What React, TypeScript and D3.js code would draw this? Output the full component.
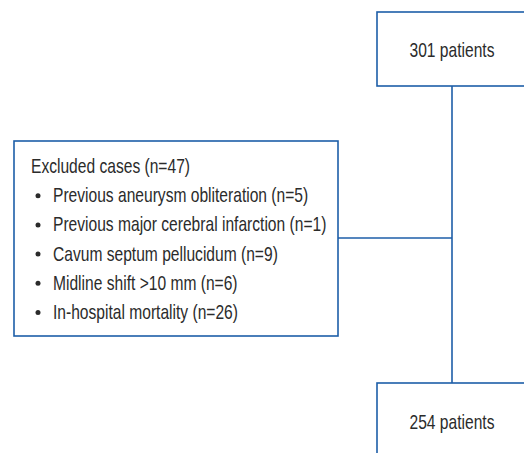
import React from 'react';
import * as d3 from 'd3';

// flow counts
const totalPatients = 301;
const finalPatients = 254;
const excludedTotal = 47;

// exclusion reasons and counts
const reasons = [
  'Previous aneurysm obliteration',
  'Previous major cerebral infarction',
  'Cavum septum pellucidum',
  'Midline shift >10 mm',
  'In-hospital mortality',
];
const reasonCounts = [5, 1, 9, 6, 26];

const BLUE = '#1d5ea8';
const TEXT = '#2b2b2b';
const FONT = '"Liberation Sans", Arial, sans-serif';
const SQUEEZE = 0.78; // narrow the glyphs, the source uses a condensed face

const Label = ({ x, y, anchor = 'start', children }: any) => (
  <text transform={`translate(${x},${y}) scale(${SQUEEZE},1)`} textAnchor={anchor}>
    {children}
  </text>
);

const App = () => {
  const width = 524;
  const height = 453;

  // line positions of the list, header row + one row per reason
  const rows = ['header', ...reasons];
  const y = d3.scalePoint<string>().domain(rows).range([173, 319]);

  const mainX = 452;
  const topBox = { x: 377, y: 12, w: 150, h: 74 };
  const botBox = { x: 377, y: 383, w: 150, h: 80 };
  const leftBox = { x: 14, y: 141, w: 324, h: 195 };
  const branchY = 238;

  return (
    <svg
      width={width}
      height={height}
      style={{ position: 'absolute', left: 0, top: 0, background: '#fff' }}
      fontFamily={FONT}
    >
      <g fill="none" stroke={BLUE} strokeWidth={1.6}>
        <rect x={topBox.x} y={topBox.y} width={topBox.w} height={topBox.h} />
        <rect x={botBox.x} y={botBox.y} width={botBox.w} height={botBox.h} />
        <rect x={leftBox.x} y={leftBox.y} width={leftBox.w} height={leftBox.h} />
        <line x1={mainX} x2={mainX} y1={topBox.y + topBox.h} y2={botBox.y} />
        <line x1={leftBox.x + leftBox.w} x2={mainX} y1={branchY} y2={branchY} />
      </g>
      <g fill={TEXT} fontSize={20}>
        <Label x={mainX} y={57} anchor="middle">{`${totalPatients} patients`}</Label>
        <Label x={mainX} y={429} anchor="middle">{`${finalPatients} patients`}</Label>
        <Label x={31} y={y('header')}>{`Excluded cases (n=${excludedTotal})`}</Label>
        {reasons.map((r, i) => (
          <g key={r}>
            <circle cx={38} cy={(y(r) as number) - 6.5} r={2.5} />
            <Label x={53} y={y(r)}>{`${r} (n=${reasonCounts[i]})`}</Label>
          </g>
        ))}
      </g>
    </svg>
  );
};

export default App;
